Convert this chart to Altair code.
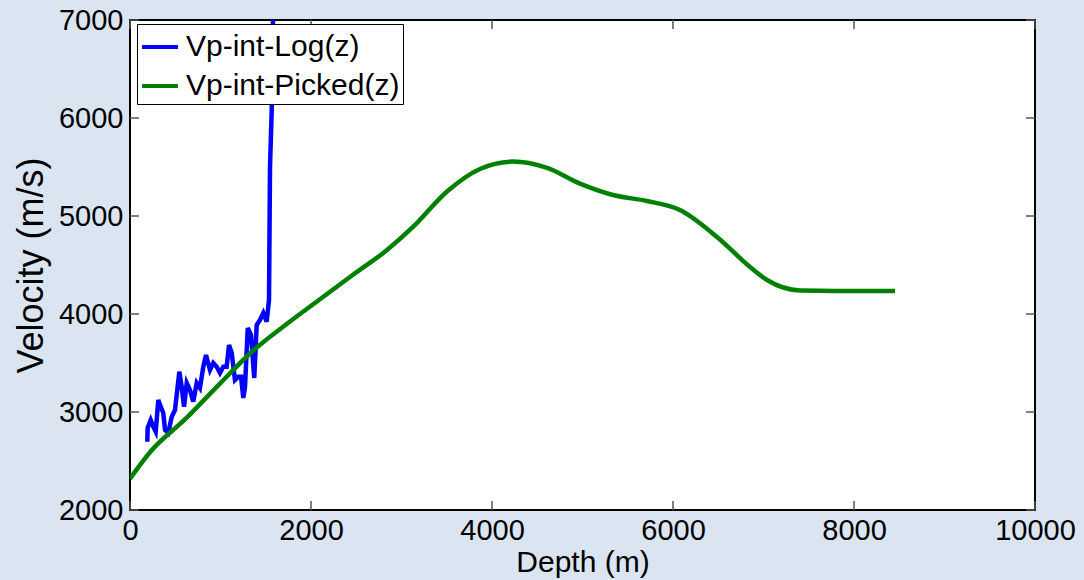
import altair as alt
import pandas as pd

# ---- data ----
log_depth = [191, 195, 229, 257, 284, 313, 339, 368, 387, 423, 461, 497, 545, 571, 597,
             627, 663, 699, 737, 773, 810, 840, 884, 920, 958, 994, 1031, 1068, 1094,
             1124, 1160, 1197, 1227, 1252, 1271, 1301, 1337, 1373, 1400, 1436, 1473,
             1510, 1536, 1547, 1566, 1580, 1590]
log_vel = [2697, 2837, 2918, 2850, 2799, 3122, 3054, 2990, 2816, 2786, 2952, 3020, 3411,
           3258, 3054, 3296, 3224, 3105, 3296, 3245, 3462, 3582, 3429, 3500, 3462, 3398,
           3462, 3462, 3684, 3602, 3327, 3360, 3360, 3143, 3258, 3857, 3786, 3347, 3888,
           3939, 4010, 3921, 4143, 5503, 6082, 7000, 7500]

picked_depth = [0, 221, 630, 994, 1359, 1735, 2099, 2464, 2840, 3127, 3503, 3867, 4232,
                4608, 4972, 5337, 5713, 6077, 6486, 6851, 7039, 7403, 7800, 8453]
picked_vel = [2320, 2590, 2945, 3290, 3625, 3900, 4150, 4400, 4653, 4888, 5250, 5480,
              5555, 5490, 5330, 5214, 5153, 5061, 4786, 4480, 4347, 4240, 4235, 4235]

series_names = ["Vp-int-Log(z)", "Vp-int-Picked(z)"]
series_colors = ["#0000ff", "#008000"]

x_ticks = [0, 2000, 4000, 6000, 8000, 10000]
y_ticks = [2000, 3000, 4000, 5000, 6000, 7000]

W, H = 905, 490
FONT = "Liberation Sans"

df_log = pd.DataFrame({"depth": log_depth, "vel": log_vel, "series": series_names[0],
                       "order": range(len(log_depth))})
df_pick = pd.DataFrame({"depth": picked_depth, "vel": picked_vel, "series": series_names[1],
                        "order": range(len(picked_depth))})

xscale = alt.Scale(domain=[0, 10000], nice=False)
yscale = alt.Scale(domain=[2000, 7000], nice=False)

color_enc = alt.Color("series:N",
                      scale=alt.Scale(domain=series_names, range=series_colors),
                      legend=alt.Legend(title=None, orient="none", legendX=7, legendY=4,
                                        symbolType="stroke", symbolStrokeWidth=4,
                                        symbolSize=1296, labelFontSize=30, labelFont=FONT,
                                        labelColor="black", labelOffset=6, rowPadding=4,
                                        labelLimit=0, padding=3, fillColor="white",
                                        strokeColor="black", cornerRadius=0))

x_enc = alt.X("depth:Q", scale=xscale, title="Depth (m)",
              axis=alt.Axis(values=x_ticks, format="d", titleFontSize=30, titlePadding=2,
                            labelFlush=False, labelPadding=6))
y_enc = alt.Y("vel:Q", scale=yscale, title="Velocity (m/s)",
              axis=alt.Axis(values=y_ticks, format="d", titleFontSize=36, titlePadding=8,
                            labelFlush=False, labelPadding=7))

log_line = alt.Chart(df_log).mark_line(strokeWidth=4.5, clip=True).encode(
    x=x_enc, y=y_enc, color=color_enc, order="order:Q")
pick_line = alt.Chart(df_pick).mark_line(strokeWidth=4.5, clip=True, interpolate="monotone").encode(
    x=x_enc, y=y_enc, color=color_enc, order="order:Q")

xt = pd.DataFrame({"t": x_ticks})
yt = pd.DataFrame({"t": y_ticks})
tick_color = "#555555"

x_bottom = alt.Chart(xt).mark_rule(color=tick_color, strokeWidth=1.5).encode(
    x=alt.X("t:Q", scale=xscale), y=alt.value(H - 9), y2=alt.value(H))
x_top = alt.Chart(xt).mark_rule(color=tick_color, strokeWidth=1.5).encode(
    x=alt.X("t:Q", scale=xscale), y=alt.value(0), y2=alt.value(9))
y_left = alt.Chart(yt).mark_rule(color=tick_color, strokeWidth=1.5).encode(
    y=alt.Y("t:Q", scale=yscale), x=alt.value(0), x2=alt.value(9))
y_right = alt.Chart(yt).mark_rule(color=tick_color, strokeWidth=1.5).encode(
    y=alt.Y("t:Q", scale=yscale), x=alt.value(W - 9), x2=alt.value(W))

chart = alt.layer(x_bottom, x_top, y_left, y_right, log_line, pick_line).properties(
    width=W, height=H,
    autosize=alt.AutoSizeParams(type="none"),
    padding={"left": 130, "top": 20, "right": 49, "bottom": 70},
    background="#dbe5f1",
).configure_view(
    stroke="black", strokeWidth=2, fill="white"
).configure_axis(
    grid=False, domain=False, ticks=False, tickSize=0,
    labelFont=FONT, labelFontSize=29, labelColor="black",
    titleFont=FONT, titleFontWeight="normal", titleColor="black",
)

chart.save("out.html", embed_options={"renderer": "svg", "actions": False})
